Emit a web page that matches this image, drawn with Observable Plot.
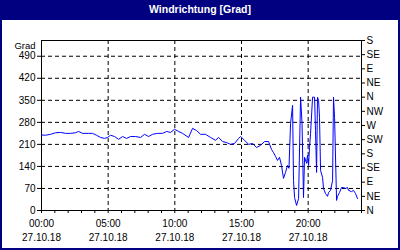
<!DOCTYPE html>
<html>
<head>
<meta charset="utf-8">
<script src="https://cdn.jsdelivr.net/npm/d3@7"></script>
<script src="https://cdn.jsdelivr.net/npm/@observablehq/plot@0.6"></script>
<style>
  html, body { margin: 0; padding: 0; background: #fff; }
  #wrap { width: 400px; height: 250px; box-sizing: border-box; border: 2px solid #000080; border-top: 0; background: #fff; overflow: hidden; }
  #title { height: 20px; margin: 0 -2px; background: #000080; color: #fff; text-align: center;
           font: bold 10.5px "Liberation Sans", Arial, sans-serif; line-height: 19px; }
  #chart svg { display: block; }
</style>
</head>
<body>
<div id="wrap">
  <div id="title">Windrichtung [Grad]</div>
  <div id="chart"></div>
</div>
<script>
const hours = [0.00,0.30,0.68,1.05,1.43,1.80,2.18,2.55,2.78,3.08,3.53,3.83,4.13,4.43,4.73,4.95,5.18,5.48,5.78,6.08,6.38,6.68,7.05,7.43,7.73,8.03,8.33,8.70,9.08,9.38,9.68,9.98,10.28,10.58,11.03,11.33,11.63,11.93,12.30,12.68,13.05,13.28,13.58,13.88,14.18,14.48,14.78,14.93,15.23,15.53,15.83,16.13,16.43,16.73,17.03,17.25,17.40,17.55,17.70,17.85,18.00,18.15,18.30,18.45,18.56,18.68,18.83,18.90,18.98,19.13,19.28,19.43,19.54,19.65,19.73,19.88,19.95,20.03,20.10,20.18,20.33,20.48,20.55,20.63,20.70,20.78,20.85,20.93,21.08,21.15,21.30,21.45,21.53,21.68,21.83,21.90,21.98,22.13,22.20,22.35,22.50,22.65,22.80,22.95,23.03,23.25,23.40,23.55,23.70];
const direction = [240,239,242,247,248,245,245,247,251,245,245,245,239,232,229,232,239,235,226,235,229,235,235,232,242,235,242,245,245,251,248,258,251,245,232,261,254,242,242,232,223,232,219,216,210,213,229,235,223,210,213,200,207,219,219,194,184,172,159,169,143,102,121,143,134,277,334,95,41,16,38,360,277,41,169,150,175,143,200,245,360,360,254,121,360,350,296,127,105,70,54,45,57,64,95,360,296,32,45,57,73,73,70,73,64,60,64,54,38];

const gradTicks = [0,70,140,210,280,350,420,490];
const gridTicks = [70,140,210,280,350,420,490];
const compassTicks = [0,45,90,135,180,225,270,315,360,405,450,495,540];
const compassLabels = ["N","NE","E","SE","S","SW","W","NW","N","NE","E","SE","S"];
const hourTicks = [0,1,2,3,4,5,6,7,8,9,10,11,12,13,14,15,16,17,18,19,20,21,22,23,24];
const timeTicks = [0,5,10,15,20];
const timeLabels = ["00:00","05:00","10:00","15:00","20:00"];
const dateLabels = ["27.10.18","27.10.18","27.10.18","27.10.18","27.10.18"];
const unitLabel = "Grad";

const data = hours.map((h, i) => ({h, v: direction[i]}));
const grid = {stroke: "#000", strokeOpacity: 1, strokeDasharray: "4,3", strokeWidth: 1};

const chart = Plot.plot({
  width: 396, height: 228,
  marginLeft: 39, marginRight: 37, marginTop: 20, marginBottom: 38,
  style: {fontFamily: "Liberation Sans, Arial, sans-serif", fontSize: "10px", color: "#000", background: "#fff", overflow: "visible"},
  x: {domain: [0, 24]},
  y: {domain: [0, 540]},
  marks: [
    Plot.gridY(gridTicks, grid),
    Plot.gridX([5, 10, 15, 20], grid),
    Plot.frame({stroke: "#000"}),
    Plot.axisY(gradTicks, {anchor: "left", tickSize: 4, tickPadding: 2, label: null}),
    Plot.axisY(compassTicks, {anchor: "right", tickSize: 3, tickPadding: 2, label: null,
      tickFormat: d => compassLabels[compassTicks.indexOf(d)]}),
    Plot.axisX(hourTicks, {anchor: "bottom", tickSize: 3, tickFormat: () => "", label: null}),
    Plot.axisX(timeTicks, {anchor: "bottom", tickSize: 0, tickPadding: 9, label: null,
      tickFormat: d => timeLabels[timeTicks.indexOf(d)]}),
    Plot.axisX(timeTicks, {anchor: "bottom", tickSize: 0, tickPadding: 23, label: null,
      tickFormat: d => dateLabels[timeTicks.indexOf(d)]}),
    Plot.line(data, {x: "h", y: "v", stroke: "#0000ff", strokeWidth: 1}),
    Plot.text([unitLabel], {text: d => d, frameAnchor: "top-left", textAnchor: "end", dx: -6, dy: 2, fontSize: 9.5})
  ]
});
document.getElementById("chart").appendChild(chart);
</script>
</body>
</html>
